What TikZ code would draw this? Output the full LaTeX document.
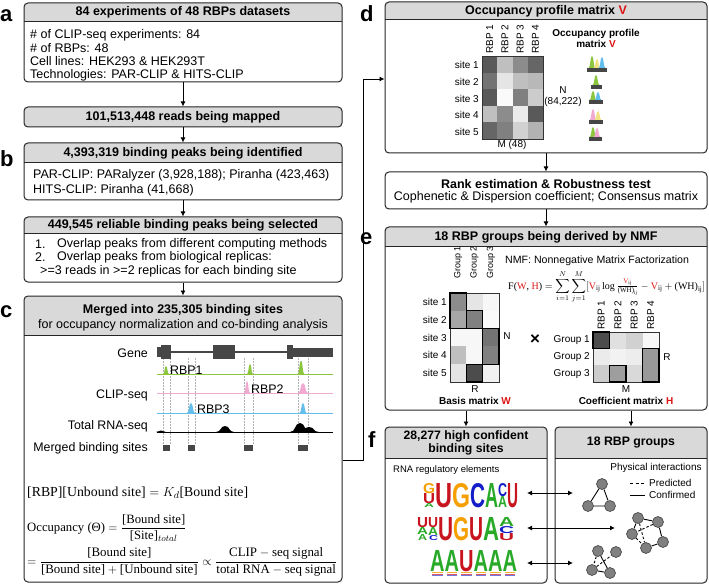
\documentclass[tikz,border=0pt]{standalone}
\usepackage{fontspec}
\setmainfont{Liberation Sans}
\newfontfamily\serif{Liberation Serif}
\usepackage{amsmath}
\usepackage{graphicx}
\usetikzlibrary{arrows.meta,fit,calc}

\definecolor{hdr}{RGB}{217,217,217}
\definecolor{vred}{RGB}{220,20,20}
\definecolor{pgreen}{RGB}{140,198,63}
\definecolor{ppink}{RGB}{240,170,210}
\definecolor{pblue}{RGB}{100,190,235}
\definecolor{pyellow}{RGB}{240,225,130}
\definecolor{lU}{RGB}{200,20,30}
\definecolor{lG}{RGB}{245,160,0}
\definecolor{lC}{RGB}{20,30,200}
\definecolor{lA}{RGB}{40,170,40}
\definecolor{exon}{RGB}{70,70,70}
\definecolor{gnode}{RGB}{128,128,128}

\newcommand{\ms}[1]{\text{\serif #1}}
\newcounter{lgc}
\newcommand{\logoL}[6]{\stepcounter{lgc}\node[inner sep=0, outer sep=0, anchor=north west, text=#5] (lg\arabic{lgc}) at (#1,#2) {\resizebox{#3pt}{#4pt}{\bfseries #6}};}
\newcommand{\pk}[5]{\fill[#5] ({#1-#4},#2) .. controls ({#1-0.4*#4},#2) and ({#1-0.55*#4},{#2-#3}) .. (#1,{#2-#3}) .. controls ({#1+0.55*#4},{#2-#3}) and ({#1+0.4*#4},#2) .. ({#1+#4},#2) -- cycle;}
\newcommand{\panelbox}[6]{%
  \begin{scope}
    \clip[rounded corners=4pt] (#2,#3) rectangle (#4,#5);
    \fill[hdr] (#2,#3) rectangle (#4,#6);
  \end{scope}
  \draw[boxline] (#2,#6) -- (#4,#6);
  \node[fit={(#2,#3) (#4,#5)}, inner sep=0, draw, boxline, rounded corners=4pt] (#1) {};
}

\tikzset{
  boxline/.style={line width=1pt, draw=black!85},
  arr/.style={-{Latex[length=5pt,width=5pt]}, line width=0.9pt},
  darr/.style={{Latex[length=5pt,width=5pt]}-{Latex[length=5pt,width=5pt]}, line width=0.9pt},
  lbl/.style={font=\fontsize{22}{22}\selectfont\bfseries, inner sep=0, anchor=base west},
  htxt/.style={font=\fontsize{12.5}{14}\selectfont\bfseries, inner sep=0},
  btxt/.style={font=\fontsize{12.5}{13.4}\selectfont, inner sep=0, anchor=west},
  trk/.style={font=\fontsize{12.4}{13}\selectfont, inner sep=0, anchor=east},
  rtxt/.style={font=\fontsize{12.4}{13}\selectfont, inner sep=0, anchor=west},
  smtxt/.style={font=\fontsize{10}{11}\selectfont, inner sep=0},
  smb/.style={font=\fontsize{10}{11}\selectfont\bfseries, inner sep=0},
  rot/.style={font=\fontsize{10}{11}\selectfont, inner sep=0, rotate=90, anchor=west},
  mline/.style={line width=0.6pt, draw=black!80},
  hl/.style={line width=1.2pt, draw=black},
  vdash/.style={draw=gray!60, dash pattern=on 1.5pt off 1.5pt, line width=0.4pt},
  gn/.style={circle, fill=gnode, draw=black!75, line width=0.6pt, minimum size=11pt, inner sep=0},
  eqn/.style={inner sep=0, anchor=west, font=\fontsize{12.7}{14}\selectfont}
}

\begin{document}
\begin{tikzpicture}[x=1pt,y=-1pt]
\useasboundingbox (0,0) rectangle (709,585);
\fill[white] (0,0) rectangle (709,585);

% ---------------- panel labels
\node[lbl] (la) at (0,22) {a};
\node[lbl] (lb) at (0,167) {b};
\node[lbl] (lc) at (0,317) {c};
\node[lbl] (ld) at (360,22) {d};
\node[lbl] (le) at (360,245) {e};
\node[lbl] (lf) at (368,447) {f};

% ---------------- a
\panelbox{aBox}{24}{3}{342}{82}{22}
\node[htxt] (aHead) at (183,12.5) {84 experiments of 48 RBPs datasets};
\node[btxt, align=left] (aText) at (30,55.5) {\# of CLIP-seq experiments: 84\\\# of RBPs: 48\\Cell lines: HEK293 \& HEK293T\\Technologies: PAR-CLIP \& HITS-CLIP};

\node[fit={(24,107) (342,127)}, inner sep=0, fill=hdr, draw, boxline, rounded corners=4pt] (mapBox) {};
\node[htxt] (mapText) at (183,117) {101,513,448 reads being mapped};
\draw[arr] (aBox.south) -- (mapBox.north);

% ---------------- b
\panelbox{bBox}{24}{143}{342}{200}{163}
\node[htxt] (bHead) at (183,153) {4,393,319 binding peaks being identified};
\node[btxt, align=left, font=\fontsize{12.5}{15}\selectfont] (bText) at (33,182.5) {PAR-CLIP: PARalyzer (3,928,188); Piranha (423,463)\\HITS-CLIP: Piranha (41,668)};
\draw[arr] (mapBox.south) -- (bBox.north);

\panelbox{sBox}{24}{217}{342}{282}{234}
\node[htxt] (sHead) at (183,225.5) {449,545 reliable binding peaks being selected};
\node[btxt] (n1) at (35,244) {1.};
\node[btxt] (s1) at (57,244) {Overlap peaks from different computing methods};
\node[btxt] (n2) at (35,257.5) {2.};
\node[btxt] (s2) at (57,257.5) {Overlap peaks from biological replicas:};
\node[btxt] (s3) at (40,271) {>=3 reads in >=2 replicas for each binding site};
\draw[arr] (bBox.south) -- (sBox.north);

% ---------------- c
\panelbox{cBox}{24}{296}{342}{582}{335}
\node[htxt] (cHead) at (183,310) {Merged into 235,305 binding sites};
\node[inner sep=0, font=\fontsize{12.5}{14}\selectfont] (cHead2) at (183,325) {for occupancy normalization and co-binding analysis};
\draw[arr] (sBox.south) -- (cBox.north);

% track labels
\node[trk] (tGene) at (148,353) {Gene};
\node[trk] (tClip) at (148,395) {CLIP-seq};
\node[trk] (tTot) at (148,426) {Total RNA-seq};
\node[trk] (tMer) at (148,448) {Merged binding sites};

% dashed guides
\foreach \xx in {163,170,188,195,244,253,298,308} {\draw[vdash] (\xx,358) -- (\xx,445);}

% gene model
\draw[exon, line width=2pt] (157,352) -- (333,352);
\fill[exon] (157,347) rectangle (161,357);
\fill[exon] (161,345) rectangle (171,359);
\fill[exon] (213,345) rectangle (235,359);
\fill[exon] (287,345) rectangle (293,359);
\fill[exon] (293,347.5) rectangle (333,356.5);

% CLIP tracks
\draw[pgreen, line width=0.8pt] (157,374) -- (333,374);
\pk{166}{374}{8}{3}{pgreen}
\pk{250}{374}{10}{3}{pgreen}
\pk{301}{374}{13}{3.5}{pgreen}
\node[rtxt] (r1) at (170,370) {RBP1};
\draw[ppink, line width=0.8pt] (157,393) -- (333,393);
\pk{247}{393}{12}{3}{ppink}
\pk{303}{393}{10}{5}{ppink}
\node[rtxt] (r2) at (251,389) {RBP2};
\draw[pblue, line width=0.8pt] (157,413) -- (333,413);
\pk{191}{413}{10}{4}{pblue}
\pk{303}{413}{10}{3.5}{pblue}
\node[rtxt] (r3) at (197,409) {RBP3};

% total RNA
\draw[black, line width=1pt] (157,432) -- (333,432);
\pk{161}{432}{1.5}{5}{black}
\pk{225}{432}{6}{9}{black}
\pk{300}{432}{9}{10}{black}
\pk{309}{432}{5}{10}{black}

% merged sites
\fill[exon] (163,445) rectangle (170,451);
\fill[exon] (188,445) rectangle (195,451);
\fill[exon] (244,445) rectangle (253,451);
\fill[exon] (298,445) rectangle (308,451);

% equations
\node[eqn] (eq1) at (27,493) {\resizebox{221pt}{!}{$\ms{[RBP][Unbound site]} = K_d\ms{[Bound site]}$}};
\node[eqn] (eq2) at (27,528) {$\ms{Occupancy (Θ)} = \dfrac{\ms{[Bound site]}}{\ms{[Site]}_{total}}$};
\node[eqn] (eq3) at (27,562) {\resizebox{310pt}{!}{$= \dfrac{\ms{[Bound site]}}{\ms{[Bound site]} + \ms{[Unbound site]}} \propto \dfrac{\ms{CLIP} - \ms{seq signal}}{\ms{total RNA} - \ms{seq signal}}$}};

% ---------------- d
\panelbox{dBox}{385}{2}{707}{153}{20}
\node[htxt] (dHead) at (546,11) {Occupancy profile matrix \textcolor{vred}{V}};

\foreach \i/\row in {1/{65,25,45,60},2/{55,10,25,28},3/{65,2,50,20},4/{25,45,8,65},5/{60,50,18,30}} {
  \foreach \g [count=\j] in \row {
    \fill[black!\g] ({482+(\j-1)*15.25},{56+(\i-1)*16.6}) rectangle ++(15.25,16.6);
  }
}
\node[fit={(482,56) (543,139)}, inner sep=0, draw, mline] (Vmat) {};
\foreach \i in {1,...,5} {\node[smtxt, anchor=east] (vs\i) at (479,{57+16.6*(\i-0.5)}) {site \i};}
\foreach \j in {1,...,4} {\node[rot] (vr\j) at ({482+15.25*(\j-0.5)},54) {RBP \j};}
\node[smtxt] (vM) at (512,145) {M (48)};
\node[smtxt] (vN) at (563,90) {N};
\node[smtxt] (vN2) at (563,102) {(84,222)};
\node[smb, align=center] (vTitle) at (596,38) {Occupancy profile\\matrix \textcolor{vred}{V}};

% icons
\pk{592}{68}{12}{3.5}{pgreen}
\pk{597}{68}{9}{3.5}{pyellow}
\pk{602}{68}{11}{3.5}{pblue}
\fill[exon] (587,68) rectangle (607,72.5);
\pk{596}{85}{10}{3.5}{pgreen}
\fill[exon] (591,85) rectangle (602,89);
\pk{593}{100}{9}{3.5}{pgreen}
\pk{598}{100}{8}{3.5}{pblue}
\fill[exon] (589,100) rectangle (603,104);
\pk{593}{120}{11}{3.5}{ppink}
\pk{598}{120}{9}{3.5}{pyellow}
\fill[exon] (589,120) rectangle (603,124);
\pk{593}{137}{10}{3.5}{pgreen}
\pk{597}{137}{9}{3.5}{ppink}
\fill[exon] (589,137) rectangle (602,141.5);

% c -> d connector
\coordinate (cd1) at (363,460);
\coordinate (cd2) at (363,79);
\draw[arr] (cBox.east |- cd1) -- (cd1) -- (cd2) -- (dBox.west |- cd2);

% ---------------- rank
\node[fit={(385,172) (707,209)}, inner sep=0, draw, boxline, rounded corners=4pt] (rankBox) {};
\node[htxt] (rk1) at (546,184) {Rank estimation \& Robustness test};
\node[inner sep=0, font=\fontsize{12.5}{14}\selectfont] (rk2) at (546,197.5) {Cophenetic \& Dispersion coefficient; Consensus matrix};
\draw[arr] (dBox.south) -- (rankBox.north);

% ---------------- e
\panelbox{eBox}{385}{227}{707}{410}{247}
\node[htxt] (eHead) at (546,237) {18 RBP groups being derived by NMF};
\draw[arr] (rankBox.south) -- (eBox.north);

% W matrix
\foreach \i/\row in {1/{45,10,3},2/{35,50,2},3/{3,3,55},4/{25,3,50},5/{10,70,5}} {
  \foreach \g [count=\j] in \row {
    \fill[black!\g] ({450+(\j-1)*16.33},{293+(\i-1)*17.8}) rectangle ++(16.33,17.8);
  }
}
\node[fit={(450,293) (499,382)}, inner sep=0, draw, mline] (Wmat) {};
\draw[hl] (450,293) rectangle (466.33,328.6);
\draw[hl] (466.33,310.8) rectangle (482.67,328.6);
\draw[hl] (482.67,328.6) rectangle (499,364.2);
\draw[hl] (466.33,364.2) rectangle (482.67,382);
\foreach \i in {1,...,5} {\node[smtxt, anchor=east] (ws\i) at (447,{293+17.8*(\i-0.5)}) {site \i};}
\foreach \j in {1,...,3} {\node[rot, font=\fontsize{9}{11}\selectfont] (wg\j) at ({450+16.33*(\j-0.5)},279) {Group \j};}
\node[smtxt] (wN) at (507,336) {N};
\node[smtxt] (wR) at (475,389) {R};
\node[smb] (wT) at (475,400.5) {Basis matrix \textcolor{vred}{W}};
\node[inner sep=0, font=\fontsize{17}{17}\selectfont\bfseries] (times) at (535,340) {×};

% H matrix
\foreach \i/\row in {1/{70,12,18,3},2/{8,5,7,40},3/{20,38,15,40}} {
  \foreach \g [count=\j] in \row {
    \fill[black!\g] ({593+(\j-1)*16.5},{332+(\i-1)*16.67}) rectangle ++(16.5,16.67);
  }
}
\node[fit={(593,332) (659,382)}, inner sep=0, draw, mline] (Hmat) {};
\draw[hl] (593,332) rectangle (609.5,348.67);
\draw[hl] (642.5,348.67) rectangle (659,382);
\draw[hl] (609.5,365.33) rectangle (626,382);
\foreach \i in {1,...,3} {\node[smtxt, anchor=east] (hg\i) at (590,{332+16.67*(\i-0.5)}) {Group \i};}
\foreach \j in {1,...,4} {\node[rot] (hr\j) at ({593+16.5*(\j-0.5)},330) {RBP \j};}
\node[smtxt] (hR) at (667,357) {R};
\node[smtxt] (hM) at (626,389) {M};
\node[smb] (hT) at (626,400.5) {Coefficient matrix \textcolor{vred}{H}};

% NMF formula
\node[inner sep=0, anchor=west, font=\fontsize{10.6}{12}\selectfont] (nmf) at (505,261) {NMF: Nonnegative Matrix Factorization};
\node[inner sep=0, anchor=west] (nmfeq) at (508,287) {\resizebox{197pt}{!}{$\displaystyle \ms{F(}\textcolor{vred}{\ms{W}}\ms{, }\textcolor{vred}{\ms{H}}\ms{)} = \sum_{i=1}^{N}\sum_{j=1}^{M}[\textcolor{vred}{\ms{V}}_{\ms{ij}}\,\ms{log}\,\tfrac{\textcolor{vred}{\ms{V}}_{\ms{ij}}}{\ms{(WH)}_{\ms{ij}}} - \textcolor{vred}{\ms{V}}_{\ms{ij}} + \ms{(WH)}_{\ms{ij}}]$}};

% ---------------- f
\panelbox{fLBox}{385}{427}{547}{583}{458}
\node[htxt, align=center, font=\fontsize{12.2}{13}\selectfont\bfseries] (fLHead) at (466,442.5) {28,277 high confident\\binding sites};
\panelbox{fRBox}{555}{427}{707}{583}{458}
\node[htxt, font=\fontsize{12.3}{13}\selectfont\bfseries] (fRHead) at (631,443) {18 RBP groups};
\draw[arr] (eBox.south -| fLBox.north) -- (fLBox.north);
\draw[arr] (eBox.south -| fRBox.north) -- (fRBox.north);

\node[inner sep=0, anchor=west, font=\fontsize{9.5}{10}\selectfont] (rre) at (393,470) {RNA regulatory elements};

% logo 1
\logoL{423}{483}{12}{10}{lG}{G}
\logoL{423}{493}{12}{10}{lU}{U}
\logoL{424}{503}{10}{4}{lA}{A}
\logoL{435}{483}{17}{24}{lU}{U}
\logoL{452}{483}{18}{24}{lG}{G}
\logoL{470}{483}{15}{24}{lC}{C}
\logoL{485}{483}{13}{24}{lA}{A}
\logoL{498}{483}{9}{13}{lC}{C}
\logoL{498}{496}{9}{11}{lA}{A}
\logoL{507}{483}{11}{24}{lU}{U}
% logo 2
\logoL{417}{517}{11}{10}{lU}{U}
\logoL{417}{527}{11}{7}{lA}{A}
\logoL{418}{534}{9}{6}{lA}{A}
\logoL{428}{517}{10}{10}{lU}{U}
\logoL{428}{527}{10}{8}{lA}{A}
\logoL{429}{535}{9}{5}{lC}{C}
\logoL{438}{517}{15}{23}{lU}{U}
\logoL{453}{517}{16}{23}{lG}{G}
\logoL{469}{517}{14}{23}{lU}{U}
\logoL{483}{517}{16}{23}{lA}{A}
\logoL{499}{517}{15}{9}{lA}{A}
\logoL{499}{526}{15}{7}{lC}{C}
\logoL{499}{533}{15}{7}{lU}{U}
% logo 3
\logoL{430}{550}{14.5}{21}{lA}{A}
\logoL{444.5}{550}{14.5}{21}{lA}{A}
\logoL{459}{550}{14.5}{21}{lU}{U}
\logoL{473.5}{550}{14.5}{21}{lA}{A}
\logoL{488}{550}{14.5}{21}{lA}{A}
\logoL{502.5}{550}{14.5}{21}{lA}{A}
\foreach \k in {0,...,5} {
  \fill[lG!80] ({432+14.5*\k},572.3) rectangle ++(10.5,1);
  \fill[lU!70] ({432+14.5*\k},573.8) rectangle ++(10.5,0.9);
  \fill[lC!60] ({432+14.5*\k},575.2) rectangle ++(10.5,0.9);
}

% right f content
\node[inner sep=0, font=\fontsize{10}{11}\selectfont] (phys) at (656,468) {Physical interactions};
\coordinate (lp1) at (630,483);
\coordinate (lp2) at (645,483);
\coordinate (lc1) at (630,495);
\coordinate (lc2) at (645,495);
\draw[line width=0.8pt, dash pattern=on 3pt off 2.5pt] (lp1) -- (lp2);
\draw[line width=0.8pt] (lc1) -- (lc2);
\node[inner sep=0, anchor=west, font=\fontsize{10}{11}\selectfont] (pred) at (649,483) {Predicted};
\node[inner sep=0, anchor=west, font=\fontsize{10}{11}\selectfont] (conf) at (649,495) {Confirmed};

% graph 1
\node[gn] (g1a) at (602,484) {};
\node[gn] (g1b) at (588,506) {};
\node[gn] (g1c) at (610,506) {};
\draw[line width=0.9pt] (g1a) -- (g1b) (g1a) -- (g1c) (g1b) -- (g1c);
% graph 2
\node[gn] (g2a) at (638,518) {};
\node[gn] (g2b) at (658,522) {};
\node[gn] (g2c) at (632,534) {};
\node[gn] (g2d) at (663,542) {};
\node[gn] (g2e) at (646,548) {};
\draw[line width=0.9pt] (g2a) -- (g2b) (g2b) -- (g2d) (g2d) -- (g2e) (g2a) -- (g2c);
\draw[line width=0.9pt, dash pattern=on 2.5pt off 2pt] (g2c) -- (g2e) (g2a) -- (g2e) (g2b) -- (g2c);
% graph 3
\node[gn] (g3a) at (598,551) {};
\node[gn] (g3b) at (616,552) {};
\node[gn] (g3c) at (592,570) {};
\node[gn] (g3d) at (610,573) {};
\draw[line width=0.9pt] (g3a) -- (g3d) (g3c) -- (g3d);
\draw[line width=0.9pt, dash pattern=on 2.5pt off 2pt] (g3a) -- (g3c) (g3c) -- (g3b);

% double arrows
\coordinate (m1) at (527,493);
\coordinate (t1) at (573,493);
\coordinate (m2) at (527,528);
\coordinate (t2) at (615,528);
\coordinate (m3) at (527,563);
\coordinate (t3) at (573,563);
\draw[darr] (m1) -- (t1);
\draw[darr] (m2) -- (t2);
\draw[darr] (m3) -- (t3);

\end{tikzpicture}
\end{document}
